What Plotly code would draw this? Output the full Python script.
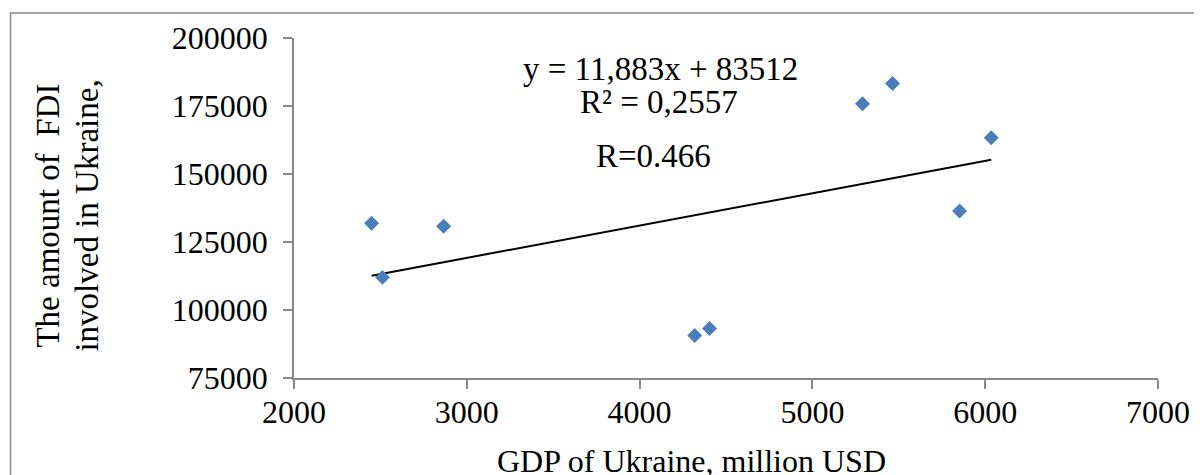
import plotly.graph_objects as go

# Data
gdp = [2449, 2512, 2866, 4319, 4405, 5290, 5464, 5852, 6035]
fdi = [131900, 112000, 130800, 90600, 93200, 175800, 183300, 136400, 163300]

slope = 11.883
intercept = 83512

x_ticks = [2000, 3000, 4000, 5000, 6000, 7000]
x_ticktext = ["2000", "3000", "4000", "5000", "6000", "7000"]
y_ticks = [75000, 100000, 125000, 150000, 175000, 200000]
y_ticktext = ["75000", "100000", "125000", "150000", "175000", "200000"]

eq_text = "y = 11,883x + 83512"
r2_text = "R² = 0,2557"
r_text = "R=0.466"
x_title = "GDP of Ukraine, million USD"
y_title_1 = "The amount of \u00a0FDI"
y_title_2 = "involved in Ukraine,"

FONT = "Liberation Serif, Times New Roman, serif"
W, H = 1202, 475
OFF = 8  # page body margin offset
# plot area in screenshot pixels
PL, PR, PT, PB = 293.5, 1157.7, 38, 378
L = PL - OFF
T = PT - OFF
R = W - (PR - OFF)
B = H - (PB - OFF)
pw = PR - PL
ph = PB - PT


def px(x):
    return (x - PL) / pw


def py(y):
    return (PB - y) / ph


fit_x = [min(gdp), max(gdp)]
fit_y = [slope * v + intercept for v in fit_x]

fig = go.Figure()
fig.add_trace(go.Scatter(
    x=fit_x, y=fit_y, mode="lines",
    line=dict(color="black", width=2), hoverinfo="skip", showlegend=False,
))
fig.add_trace(go.Scatter(
    x=gdp, y=fdi, mode="markers",
    marker=dict(symbol="diamond", size=11.5, color="#4A7EBB"),
    showlegend=False,
))

axis_common = dict(
    showgrid=False, zeroline=False, showline=True, linecolor="#888888", linewidth=1.5,
    ticks="outside", tickcolor="#888888", tickwidth=1.5, ticklen=9,
    tickfont=dict(family=FONT, size=32, color="black"), tickmode="array",
)
fig.update_xaxes(range=[2000, 7000], tickvals=x_ticks, ticktext=x_ticktext,
                 ticklabelstandoff=-4, **axis_common)
fig.update_yaxes(range=[75000, 200000], tickvals=y_ticks, ticktext=y_ticktext,
                 ticklabelstandoff=9, **axis_common)

annotations = [
    dict(text=eq_text, x=px(660), y=py(69), size=33),
    dict(text=r2_text, x=px(658.5), y=py(102), size=33),
    dict(text=r_text, x=px(653.5), y=py(156), size=33),
    dict(text=x_title, x=px(691), y=py(461), size=32),
]
ann = []
for a in annotations:
    ann.append(dict(
        text=a["text"], x=a["x"], y=a["y"], xref="paper", yref="paper",
        xanchor="center", yanchor="middle", showarrow=False,
        font=dict(family=FONT, size=a["size"], color="black"),
    ))
for txt, cx in [(y_title_1, 47), (y_title_2, 86)]:
    ann.append(dict(
        text=txt, x=px(cx), y=py(216), xref="paper", yref="paper",
        xanchor="center", yanchor="middle", showarrow=False, textangle=-90,
        font=dict(family=FONT, size=33, color="black"),
    ))

fig.update_layout(
    width=W, height=H,
    margin=dict(l=L, r=R, t=T, b=B, pad=0),
    plot_bgcolor="white", paper_bgcolor="white",
    annotations=ann,
    shapes=[dict(
        type="rect", xref="paper", yref="paper",
        x0=px(10), x1=px(1215), y0=py(495), y1=py(13),
        line=dict(color="#888888", width=1.5), fillcolor="rgba(0,0,0,0)",
    )],
)

fig.write_html("out.html")
